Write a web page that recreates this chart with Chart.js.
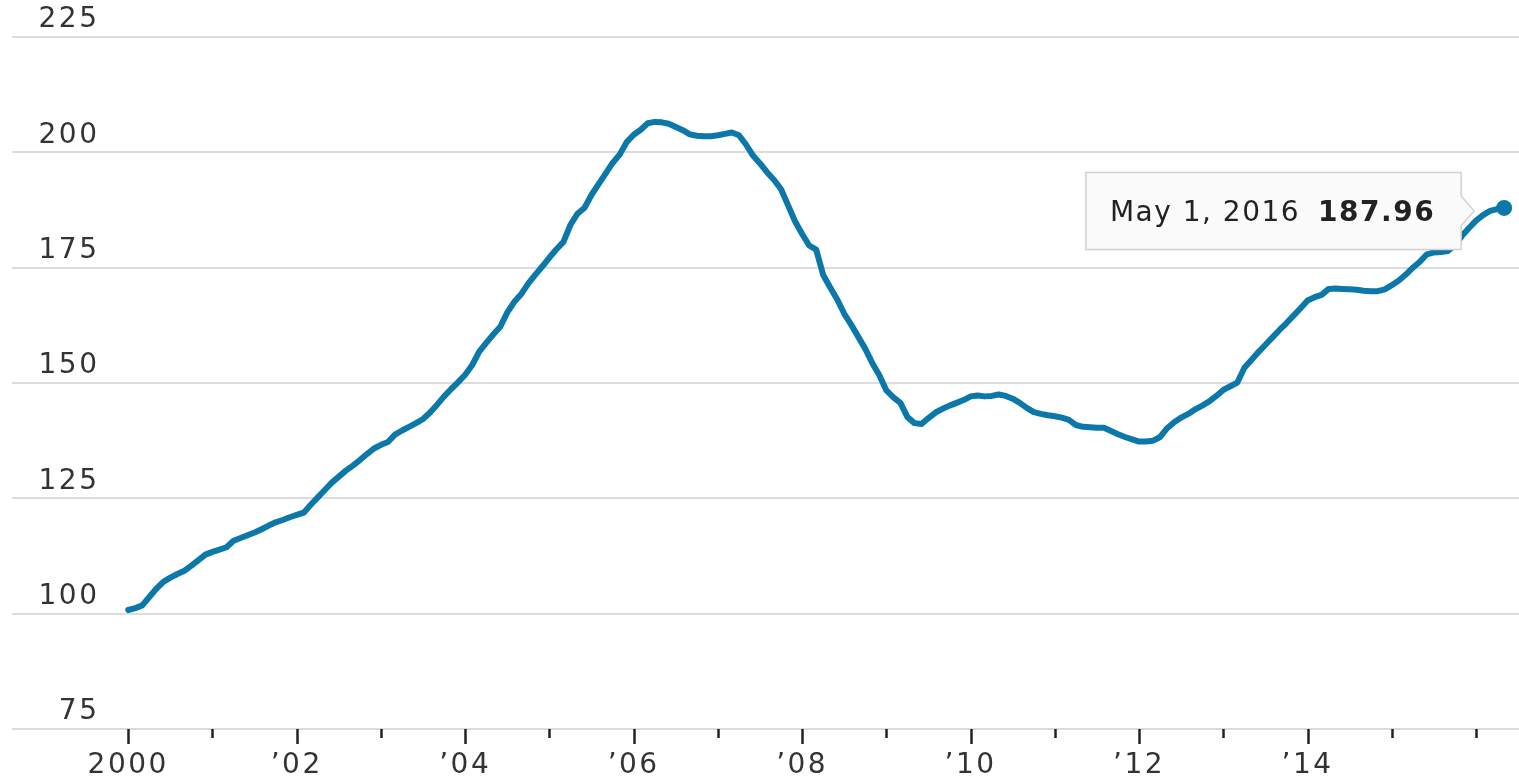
<!DOCTYPE html>
<html>
<head>
<meta charset="utf-8">
<script src="https://cdn.jsdelivr.net/npm/chart.js@4.4.1/dist/chart.umd.min.js"></script>
<style>
  html, body { margin: 0; padding: 0; background: #ffffff; }
  #c { display: block; }
</style>
</head>
<body>
<canvas id="c" width="1519" height="779"></canvas>
<script>
// ---- Data (monthly index, Jan 2000 .. May 2016) ----
const startYear = 2000;
const y2000 = [100.8, 101.2, 101.8, 103.6, 105.4, 106.9, 107.8, 108.6, 109.3, 110.4, 111.6, 112.8];
const y2001 = [113.4, 113.9, 114.4, 115.8, 116.4, 117.0, 117.6, 118.3, 119.1, 119.8, 120.3, 120.9];
const y2002 = [121.4, 121.9, 123.6, 125.2, 126.8, 128.4, 129.7, 131.0, 132.1, 133.3, 134.6, 135.8];
const y2003 = [136.6, 137.2, 138.8, 139.7, 140.5, 141.3, 142.2, 143.6, 145.3, 147.1, 148.7, 150.2];
const y2004 = [151.8, 153.9, 156.8, 158.7, 160.5, 162.2, 165.3, 167.6, 169.3, 171.6, 173.5, 175.3];
const y2005 = [177.2, 179.0, 180.6, 184.3, 186.7, 188.0, 190.8, 193.1, 195.4, 197.7, 199.5, 202.2];
const y2006 = [203.8, 204.9, 206.3, 206.6, 206.5, 206.2, 205.5, 204.8, 203.9, 203.6, 203.5, 203.5];
const y2007 = [203.7, 204.0, 204.3, 203.7, 201.7, 199.3, 197.6, 195.7, 194.0, 192.0, 188.5, 185.0];
const y2008 = [182.3, 179.8, 178.9, 173.4, 170.7, 168.1, 165.0, 162.6, 160.0, 157.4, 154.3, 151.7];
const y2009 = [148.4, 146.9, 145.7, 142.6, 141.3, 141.1, 142.4, 143.6, 144.4, 145.1, 145.7, 146.3];
const y2010 = [147.1, 147.3, 147.1, 147.2, 147.5, 147.2, 146.6, 145.7, 144.6, 143.7, 143.3, 143.0];
const y2011 = [142.8, 142.5, 142.0, 140.9, 140.5, 140.4, 140.3, 140.3, 139.6, 138.9, 138.3, 137.8];
const y2012 = [137.3, 137.3, 137.5, 138.3, 140.2, 141.5, 142.5, 143.3, 144.3, 145.1, 146.0, 147.2];
const y2013 = [148.5, 149.3, 150.1, 153.3, 155.0, 156.7, 158.3, 159.9, 161.5, 163.0, 164.6, 166.2];
const y2014 = [167.9, 168.6, 169.1, 170.4, 170.5, 170.4, 170.3, 170.2, 170.0, 169.9, 169.9, 170.3];
const y2015 = [171.2, 172.2, 173.5, 175.0, 176.3, 177.9, 178.3, 178.4, 178.6, 179.9, 181.9, 183.6];
const y2016 = [185.2, 186.4, 187.3, 187.7, 187.96];

const yearTicks = [2000, 2001, 2002, 2003, 2004, 2005, 2006, 2007, 2008, 2009, 2010, 2011, 2012, 2013, 2014, 2015, 2016];
const yearLabels = ['2000', '', '\u201902', '', '\u201904', '', '\u201906', '', '\u201908', '', '\u201910', '', '\u201912', '', '\u201914', '', ''];
const valueTicks = [75, 100, 125, 150, 175, 200, 225];
const monthNames = ['Jan', 'Feb', 'Mar', 'Apr', 'May', 'Jun', 'Jul', 'Aug', 'Sep', 'Oct', 'Nov', 'Dec'];

// ---- Build series ----
const values = [].concat(y2000, y2001, y2002, y2003, y2004, y2005, y2006, y2007, y2008,
                         y2009, y2010, y2011, y2012, y2013, y2014, y2015, y2016);
const points = values.map((v, i) => ({ x: startYear + i / 12, y: v }));
const lastIdx = values.length - 1;
const lastYear = startYear + Math.floor(lastIdx / 12);
const lastMonth = lastIdx % 12;
const calloutDate = monthNames[lastMonth] + ' 1, ' + lastYear;
const calloutValue = values[lastIdx].toFixed(2);

const LINE = '#0b78a9';
const FONT = '"DejaVu Sans", Verdana, sans-serif';

// Custom tick marks (major on labeled years, minor otherwise)
const tickMarks = {
  id: 'tickMarks',
  afterDraw(chart) {
    const xs = chart.scales.x;
    const ctx = chart.ctx;
    const base = chart.chartArea.bottom;
    ctx.save();
    ctx.strokeStyle = '#222';
    ctx.lineWidth = 2.5;
    yearTicks.forEach((yr, i) => {
      const px = Math.round(xs.getPixelForValue(yr)) + 0.5;
      const len = yearLabels[i] ? 15 : 9;
      ctx.beginPath();
      ctx.moveTo(px, base);
      ctx.lineTo(px, base + len);
      ctx.stroke();
    });
    ctx.restore();
  }
};

// Callout box for the last point
const callout = {
  id: 'callout',
  afterDatasetsDraw(chart) {
    const meta = chart.getDatasetMeta(0);
    const pt = meta.data[meta.data.length - 1];
    const ctx = chart.ctx;
    ctx.save();
    ctx.letterSpacing = '1.5px';
    const fR = '28px ' + FONT, fB = 'bold 28px ' + FONT;
    ctx.font = fR; const w1 = ctx.measureText(calloutDate).width;
    ctx.font = fB; const w2 = ctx.measureText(calloutValue).width;
    const padL = 24, padR = 26, gap = 18, h = 77;
    const right = pt.x - 43;
    const left = right - (padL + w1 + gap + w2 + padR);
    const cy = pt.y + 3;
    const top = cy - h / 2;
    ctx.shadowColor = 'rgba(0,0,0,0.08)';
    ctx.shadowBlur = 3;
    ctx.beginPath();
    ctx.moveTo(left, top);
    ctx.lineTo(right, top);
    ctx.lineTo(right, cy - 15);
    ctx.lineTo(right + 13, cy);
    ctx.lineTo(right, cy + 15);
    ctx.lineTo(right, top + h);
    ctx.lineTo(left, top + h);
    ctx.closePath();
    ctx.fillStyle = '#fafafa';
    ctx.fill();
    ctx.shadowColor = 'transparent';
    ctx.strokeStyle = '#d2d2d2';
    ctx.lineWidth = 1.5;
    ctx.stroke();
    ctx.fillStyle = '#222';
    ctx.textBaseline = 'alphabetic';
    ctx.textAlign = 'left';
    ctx.font = fR;
    ctx.fillText(calloutDate, left + padL, cy + 10);
    ctx.font = fB;
    ctx.fillText(calloutValue, left + padL + w1 + gap, cy + 10);
    ctx.restore();
  }
};

const spacing = {
  id: 'spacing',
  beforeDraw(chart) { chart.ctx.letterSpacing = '2.5px'; }
};

new Chart(document.getElementById('c'), {
  type: 'line',
  data: {
    datasets: [{
      data: points,
      borderColor: LINE,
      backgroundColor: LINE,
      borderWidth: 6,
      borderJoinStyle: 'round',
      borderCapStyle: 'round',
      tension: 0,
      pointRadius: (c) => c.dataIndex === lastIdx ? 8 : 0,
      pointHoverRadius: (c) => c.dataIndex === lastIdx ? 8 : 0,
      pointBackgroundColor: LINE,
      pointBorderWidth: 0,
      fill: false,
      clip: false
    }]
  },
  options: {
    responsive: false,
    animation: false,
    events: [],
    layout: { autoPadding: false, padding: { top: 37, left: 12, right: 0, bottom: 0 } },
    plugins: { legend: { display: false }, tooltip: { enabled: false } },
    scales: {
      x: {
        type: 'linear',
        min: 1998.62,
        max: 2016.51,
        afterBuildTicks: (s) => { s.ticks = yearTicks.map(v => ({ value: v })); },
        afterFit: (s) => { s.height = 50; s.paddingLeft = 0; s.paddingRight = 0; },
        grid: { display: false },
        border: { display: false },
        ticks: {
          autoSkip: false,
          maxRotation: 0,
          padding: 12,
          color: '#333',
          font: { family: FONT, size: 28 },
          callback: (v) => { const i = yearTicks.indexOf(v); return i >= 0 ? yearLabels[i] : ''; }
        }
      },
      y: {
        min: 75,
        max: 225,
        afterBuildTicks: (s) => { s.ticks = valueTicks.map(v => ({ value: v })); },
        afterFit: (s) => { s.width = 0; s.paddingTop = 0; s.paddingBottom = 0; },
        grid: { color: '#dcdcdc', lineWidth: 2, drawTicks: false },
        border: { display: false },
        ticks: {
          mirror: true,
          crossAlign: 'far',
          padding: 34,
          labelOffset: -17,
          color: '#333',
          font: { family: FONT, size: 28 }
        }
      }
    }
  },
  plugins: [spacing, tickMarks, callout]
});
</script>
</body>
</html>
